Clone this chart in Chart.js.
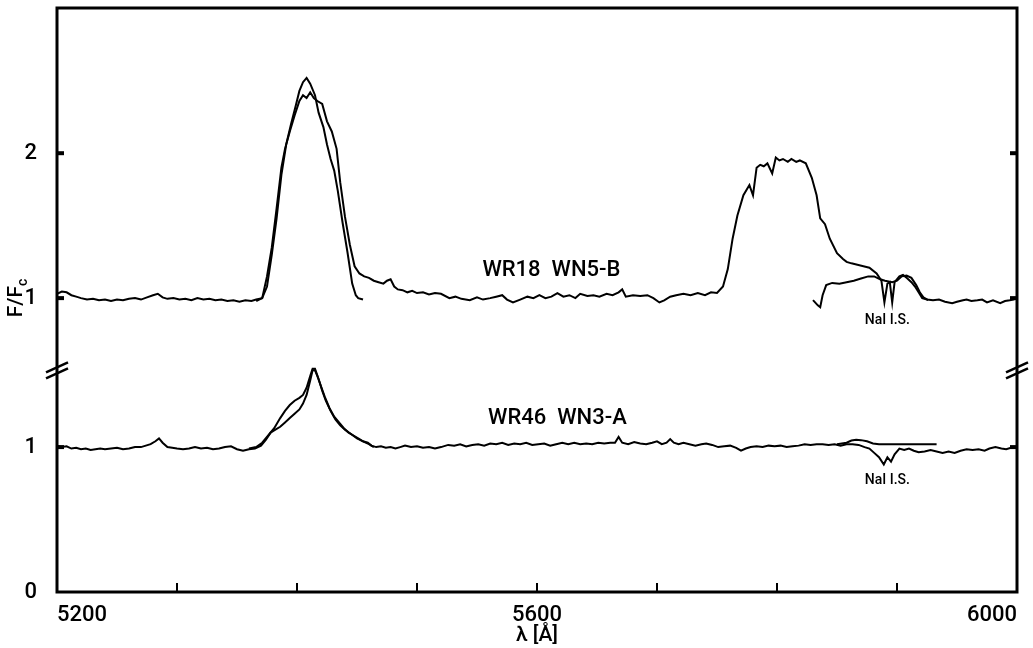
<!DOCTYPE html>
<html>
<head>
<meta charset="utf-8">
<script src="https://cdn.jsdelivr.net/npm/chart.js@4.4.1/dist/chart.umd.min.js"></script>
<style>
  body { margin: 0; background: #fff; }
</style>
</head>
<body>
<canvas id="spectra" width="1033" height="648"></canvas>
<script>
// WR18 (WN5-B), upper panel, observed spectrum
const wr18Wave = [5200,5204,5208,5212,5216,5220,5225,5230,5235,5240,5245,5250,5255,5260,5265,5270,5275,5280,5284,5288,5292,5297,5302,5307,5312,5317,5322,5327,5332,5337,5342,5347,5352,5357,5362,5366,
  5371,5375,5379,5383,5387,5390,5394,5398,5402,5405,5408,5411,5414,5417,5421,5425,5429,5433,5436,5440,5444,5448,5452,5456,5460,5464,5468,5472,5475,5478,5481,5484,5488,5492,5496,5500,
  5505,5510,5515,5520,5527,5532,5537,5544,5550,5555,5561,5566,5571,5575,5580,5586,5592,5597,5602,5607,5612,5617,5622,5627,5632,5636,5642,5647,5652,5658,5663,5668,5671,5674,5680,5686,
  5692,5697,5702,5706,5711,5716,5722,5728,5734,5740,5745,5750,5755,5759,5763,5767,5772,5777,5780,5783,5786,5789,5792,5796,5799,5802,5805,5809,5812,5816,5819,5824,5829,5833,5836,5840,
  5844,5850,5855,5858,5862,5867,5872,5877,5883,5887,5889.5,5892,5894,5896,5898,5902,5905,5908,5912,5915,5918,5921,5925,5930,5935,5940,5946,5950,5955,5958,5962,5967,5971,5975,5980,5986,
  5990,5994,5997,6000];
const wr18Flux = [1.03,1.045,1.04,1.02,1.01,1.0,0.99,0.995,0.985,0.99,0.98,0.99,0.985,0.995,1.0,0.99,1.005,1.02,1.03,1.005,0.995,1.0,0.99,0.995,0.985,1.0,0.99,0.995,0.985,0.99,0.98,0.985,0.975,0.985,0.98,0.99,
  1.0,1.15,1.35,1.62,1.9,2.03,2.15,2.26,2.36,2.40,2.38,2.42,2.38,2.36,2.34,2.22,2.15,2.03,1.80,1.56,1.37,1.22,1.17,1.15,1.14,1.12,1.11,1.10,1.12,1.13,1.08,1.06,1.055,1.04,1.05,1.035,
  1.04,1.025,1.035,1.03,1.0,1.01,0.995,0.985,1.005,0.99,1.0,1.01,1.02,0.99,0.97,0.99,1.01,1.0,1.02,1.0,1.01,1.035,1.01,1.02,1.0,1.03,1.015,1.02,1.01,1.03,1.02,1.04,1.06,1.01,1.02,1.015,
  1.02,1.0,0.97,0.985,1.01,1.02,1.03,1.02,1.035,1.02,1.04,1.035,1.08,1.2,1.41,1.57,1.71,1.78,1.71,1.9,1.92,1.91,1.93,1.86,1.97,1.95,1.96,1.94,1.96,1.94,1.95,1.93,1.83,1.71,1.55,1.51,
  1.41,1.31,1.27,1.25,1.24,1.23,1.22,1.21,1.17,1.12,0.97,1.1,1.11,0.97,1.11,1.15,1.16,1.14,1.11,1.08,1.04,1.0,0.99,0.985,0.99,0.975,0.965,0.975,0.985,0.99,0.98,0.985,0.99,0.97,0.985,0.965,
  0.98,0.985,0.99,1.0];

// WR18 He II 5411 comparison profile
const wr18FitWave = [5366,5371,5375,5379,5383,5387,5391,5395,5399,5402,5405,5408,5411,5415,5418,5422,5425,5428,5431,5434,5438,5442,5446,5449,5451,5455];
const wr18FitFlux = [0.98,1.0,1.08,1.3,1.55,1.85,2.06,2.2,2.33,2.43,2.49,2.52,2.48,2.40,2.28,2.18,2.06,1.96,1.88,1.74,1.52,1.32,1.1,1.02,1.0,0.99];

// WR18 comparison profile around Na I
const wr18NaWave = [5830,5834,5836,5838,5841,5846,5852,5858,5864,5870,5876,5881,5886,5890,5896,5900,5904,5908,5912,5916,5919,5922,5926];
const wr18NaFlux = [0.986,0.95,0.937,1.02,1.09,1.105,1.10,1.11,1.12,1.135,1.15,1.15,1.13,1.12,1.11,1.12,1.15,1.155,1.14,1.09,1.04,1.005,0.986];

// WR46 (WN3-A), lower panel, observed spectrum
const wr46Wave = [5200,5204,5208,5212,5216,5220,5224,5228,5232,5236,5240,5245,5250,5255,5260,5265,5270,5274,5278,5282,5285,5288,5292,5296,5300,5305,5310,5315,5320,5325,5330,5335,5340,5345,5350,5355,5360,5365,
  5370,5374,5378,5382,5386,5390,5394,5398,5402,5405,5408,5411,5413,5415,5417,5420,5423,5427,5431,5435,5439,5443,5447,5451,5455,5459,5462,5466,5470,5474,5478,5482,5486,5490,5495,5500,5505,5510,5515,5520,
  5526,5531,5536,5541,5546,5551,5556,5561,5566,5571,5576,5581,5586,5591,5596,5601,5606,5611,5616,5621,5626,5631,5636,5641,5646,5651,5656,5661,5665,5668,5671,5676,5681,5686,5691,5696,5700,5704,5708,5711,
  5714,5718,5722,5727,5732,5737,5741,5746,5751,5756,5761,5766,5770,5774,5778,5783,5788,5793,5798,5803,5808,5813,5818,5823,5828,5833,5838,5843,5848,5853,5858,5863,5868,5873,5877,5881,5885,5889,5892,5895,
  5898,5902,5906,5910,5914,5918,5923,5928,5933,5938,5943,5948,5953,5958,5963,5968,5973,5977,5982,5987,5991,5995,6000];
const wr46Flux = [1.01,1.0,1.005,0.99,0.995,0.985,0.99,0.98,0.985,0.99,0.985,0.99,0.995,0.985,0.99,1.0,1.0,1.01,1.02,1.04,1.06,1.03,1.0,0.995,0.99,0.985,0.99,1.0,0.99,0.995,0.985,0.99,1.0,1.005,0.985,0.975,0.985,0.99,
  1.01,1.05,1.10,1.12,1.14,1.17,1.20,1.23,1.26,1.30,1.36,1.46,1.53,1.53,1.49,1.42,1.35,1.27,1.21,1.17,1.13,1.10,1.08,1.06,1.04,1.03,1.01,1.0,1.005,0.995,1.0,0.99,1.0,1.01,1.0,1.005,0.995,1.0,0.99,1.0,
  1.015,1.01,1.02,1.005,1.015,1.02,1.01,1.025,1.02,1.03,1.015,1.025,1.02,1.03,1.015,1.02,1.025,1.01,1.02,1.03,1.02,1.03,1.02,1.025,1.02,1.03,1.025,1.03,1.03,1.07,1.03,1.02,1.035,1.025,1.02,1.03,1.04,1.02,1.03,1.055,
  1.03,1.02,1.03,1.02,1.01,1.02,1.025,1.015,1.0,1.005,1.01,0.995,0.975,0.99,1.0,1.005,1.0,1.01,1.005,1.01,1.0,1.005,1.01,1.02,1.015,1.02,1.02,1.015,1.02,1.01,1.02,1.02,1.015,1.0,0.99,0.96,0.93,0.88,0.93,0.9,
  0.95,0.99,0.98,0.99,0.975,0.965,0.97,0.98,0.97,0.96,0.97,0.96,0.975,0.985,0.98,0.985,0.975,0.99,1.0,0.99,0.985,0.995,1.0];

// WR46 He II 5411 comparison profile
const wr46FitWave = [5360,5366,5371,5376,5381,5386,5390,5394,5398,5402,5405,5408,5411,5413,5415,5418,5421,5424,5428,5432,5436,5440,5445,5450,5455,5460,5464];
const wr46FitFlux = [0.99,1.0,1.03,1.08,1.13,1.2,1.25,1.29,1.32,1.34,1.36,1.41,1.49,1.54,1.54,1.47,1.39,1.32,1.25,1.19,1.15,1.12,1.09,1.06,1.04,1.02,1.0];

// WR46 comparison line around Na I
const wr46NaWave = [5850,5858,5862,5866,5870,5875,5880,5885,5933];
const wr46NaFlux = [1.02,1.03,1.045,1.05,1.048,1.04,1.025,1.02,1.02];

// axis setup
const upperShift = 1.028;          // vertical offset of the upper (broken) panel
const axisBreak = 1.53;
const xLabelValues = [5200, 5600, 6000];
const xMinorTicks = [5300, 5400, 5500, 5600, 5700, 5800, 5900];
const yTickValues = [0, 1, 1 + upperShift, 2 + upperShift];
const yTickLabels = ['0', '1', '1', '2'];

const textLabels = [
  { text: 'WR18  WN5-B', x: 5612, y: 2.22, size: 22 },
  { text: 'WR46  WN3-A', x: 5617, y: 1.2, size: 22 },
  { text: 'NaI I.S.', x: 5892, y: 1.876, size: 14 },
  { text: 'NaI I.S.', x: 5892, y: 0.766, size: 14 }
];

const FONT = 'Roboto, "Liberation Sans", sans-serif';

const toPoints = (wave, flux, shift) => wave.map((w, i) => ({ x: w, y: flux[i] + shift }));

const lineSet = (data) => ({
  data: data,
  borderColor: '#000',
  borderWidth: 2,
  pointRadius: 0,
  tension: 0,
  fill: false
});

const frame = {
  id: 'frame',
  afterDraw(chart) {
    const { ctx, chartArea: a, scales: { x, y } } = chart;
    const seg = (x1, y1, x2, y2) => { ctx.beginPath(); ctx.moveTo(x1, y1); ctx.lineTo(x2, y2); ctx.stroke(); };
    ctx.save();
    ctx.strokeStyle = '#000';
    ctx.lineWidth = 3;
    ctx.strokeRect(a.left, a.top, a.right - a.left, a.bottom - a.top);

    ctx.lineWidth = 2;
    xMinorTicks.forEach(v => {
      const px = x.getPixelForValue(v);
      seg(px, a.bottom, px, a.bottom - 9);
    });

    ctx.lineWidth = 4;
    yTickValues.slice(1).forEach(v => {
      const py = y.getPixelForValue(v);
      seg(a.left, py, a.left + 7, py);
      seg(a.right - 7, py, a.right, py);
    });

    // axis break marks
    ctx.lineWidth = 2.5;
    const by = y.getPixelForValue(axisBreak);
    [a.left, a.right].forEach(px => {
      [-3, 3].forEach(d => seg(px - 11, by + 5 + d, px + 11, by - 5 + d));
    });

    ctx.fillStyle = '#000';
    ctx.textAlign = 'center';
    ctx.textBaseline = 'middle';
    textLabels.forEach(l => {
      ctx.font = '500 ' + l.size + 'px ' + FONT;
      ctx.fillText(l.text, x.getPixelForValue(l.x), y.getPixelForValue(l.y));
    });

    // y title F/Fc
    ctx.translate(17, 298);
    ctx.rotate(-Math.PI / 2);
    ctx.font = '500 21px ' + FONT;
    ctx.textAlign = 'left';
    const main = 'F/F';
    const w = ctx.measureText(main).width;
    ctx.font = '500 14px ' + FONT;
    const ws = ctx.measureText('c').width;
    const start = -(w + ws) / 2;
    ctx.font = '500 21px ' + FONT;
    ctx.fillText(main, start, 0);
    ctx.font = '500 14px ' + FONT;
    ctx.fillText('c', start + w, 6);
    ctx.restore();
  }
};

new Chart(document.getElementById('spectra'), {
  type: 'line',
  data: {
    datasets: [
      lineSet(toPoints(wr18Wave, wr18Flux, upperShift)),
      lineSet(toPoints(wr18FitWave, wr18FitFlux, upperShift)),
      lineSet(toPoints(wr18NaWave, wr18NaFlux, upperShift)),
      lineSet(toPoints(wr46Wave, wr46Flux, 0)),
      lineSet(toPoints(wr46FitWave, wr46FitFlux, 0)),
      lineSet(toPoints(wr46NaWave, wr46NaFlux, 0))
    ]
  },
  options: {
    responsive: false,
    animation: false,
    devicePixelRatio: 1,
    layout: { padding: { top: 8, right: 16, left: 0, bottom: 0 } },
    plugins: { legend: { display: false }, tooltip: { enabled: false } },
    scales: {
      x: {
        type: 'linear',
        min: 5200,
        max: 6000,
        grid: { display: false },
        border: { display: false },
        afterBuildTicks: s => { s.ticks = xLabelValues.map(v => ({ value: v })); },
        afterFit: s => { s.height = 56; s.paddingLeft = 0; s.paddingRight = 0; },
        ticks: {
          align: 'inner',
          autoSkip: false,
          maxRotation: 0,
          padding: 2,
          color: '#000',
          font: { family: FONT, size: 22, weight: '500' },
          callback: v => String(v)
        },
        title: {
          display: true,
          text: 'λ [Å]',
          color: '#000',
          font: { family: FONT, size: 21, weight: '500' },
          padding: { top: 0, bottom: 0 }
        }
      },
      y: {
        type: 'linear',
        min: 0,
        max: 4.03,
        grid: { display: false },
        border: { display: false },
        afterBuildTicks: s => { s.ticks = yTickValues.map(v => ({ value: v })); },
        afterFit: s => { s.width = 57; s.paddingTop = 0; s.paddingBottom = 0; },
        ticks: {
          padding: 12,
          color: '#000',
          font: { family: FONT, size: 22, weight: '500' },
          callback: (v, i) => yTickLabels[i]
        }
      }
    }
  },
  plugins: [frame]
});
</script>
</body>
</html>
